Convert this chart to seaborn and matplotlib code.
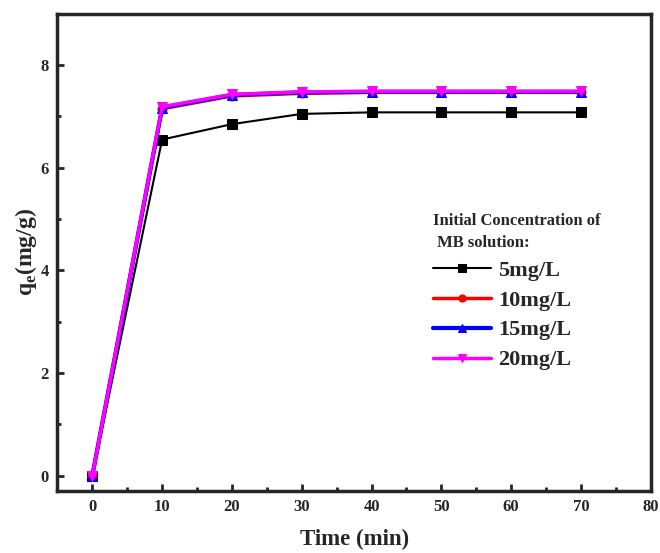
import matplotlib
matplotlib.use("Agg")
import matplotlib.pyplot as plt
import seaborn as sns
import pandas as pd
from matplotlib.ticker import MultipleLocator

sns.set_theme(style="ticks")
plt.rcParams['font.family'] = ['Liberation Serif', 'DejaVu Serif']
plt.rcParams['font.weight'] = 'bold'

time = [0, 10, 20, 30, 40, 50, 60, 70]
q_5 = [0, 6.55, 6.85, 7.05, 7.08, 7.08, 7.08, 7.08]
q_10 = [0, 7.15, 7.40, 7.45, 7.47, 7.47, 7.47, 7.47]
q_15 = [0, 7.17, 7.42, 7.47, 7.48, 7.48, 7.48, 7.48]
q_20 = [0, 7.19, 7.43, 7.48, 7.49, 7.49, 7.49, 7.49]
labels = ["5mg/L", "10mg/L", "15mg/L", "20mg/L"]
colors = ["black", "red", "blue", "magenta"]
markers = ["s", "o", "^", "v"]
widths = [1.5, 2.5, 3.0, 2.5]

rows = []
for lab, vals in zip(labels, [q_5, q_10, q_15, q_20]):
    for t, v in zip(time, vals):
        rows.append({"Time": t, "q": v, "series": lab})
df = pd.DataFrame(rows)

fig, ax = plt.subplots(figsize=(6.6, 5.53), dpi=100)
fig.subplots_adjust(left=0.087, right=0.986, top=0.975, bottom=0.112)

for lab, c, m, w in zip(labels, colors, markers, widths):
    sub = df[df.series == lab]
    sns.lineplot(data=sub, x="Time", y="q", ax=ax, color=c, marker=m,
                 markersize=6.5, linewidth=w, markeredgecolor=c, label=lab)

ax.set_xlim(-5, 80)
ax.set_ylim(-0.3, 9)
ax.xaxis.set_major_locator(MultipleLocator(10))
ax.xaxis.set_minor_locator(MultipleLocator(5))
ax.yaxis.set_major_locator(MultipleLocator(2))
ax.yaxis.set_minor_locator(MultipleLocator(1))
ax.tick_params(which='both', direction='in', width=2, labelsize=12)
ax.tick_params(which='major', length=5, pad=6)
ax.tick_params(which='minor', length=3)
for s in ax.spines.values():
    s.set_linewidth(2.5)
ax.set_xlabel("Time (min)", fontsize=16.5, fontweight='bold', labelpad=10)
ax.set_ylabel(r"q$_\mathregular{e}$(mg/g)", fontsize=17, fontweight='bold', labelpad=1)

leg = ax.legend(title="Initial Concentration of\n MB solution:", loc='upper left',
                bbox_to_anchor=(0.60, 0.625), frameon=False, fontsize=16,
                title_fontsize=12, handlelength=2.6, handletextpad=0.3,
                labelspacing=0.42, alignment='left', markerscale=0.8)
leg.get_title().set_fontweight('bold')
leg.get_title().set_linespacing(1.5)

fig.savefig("out.png", dpi=100)
